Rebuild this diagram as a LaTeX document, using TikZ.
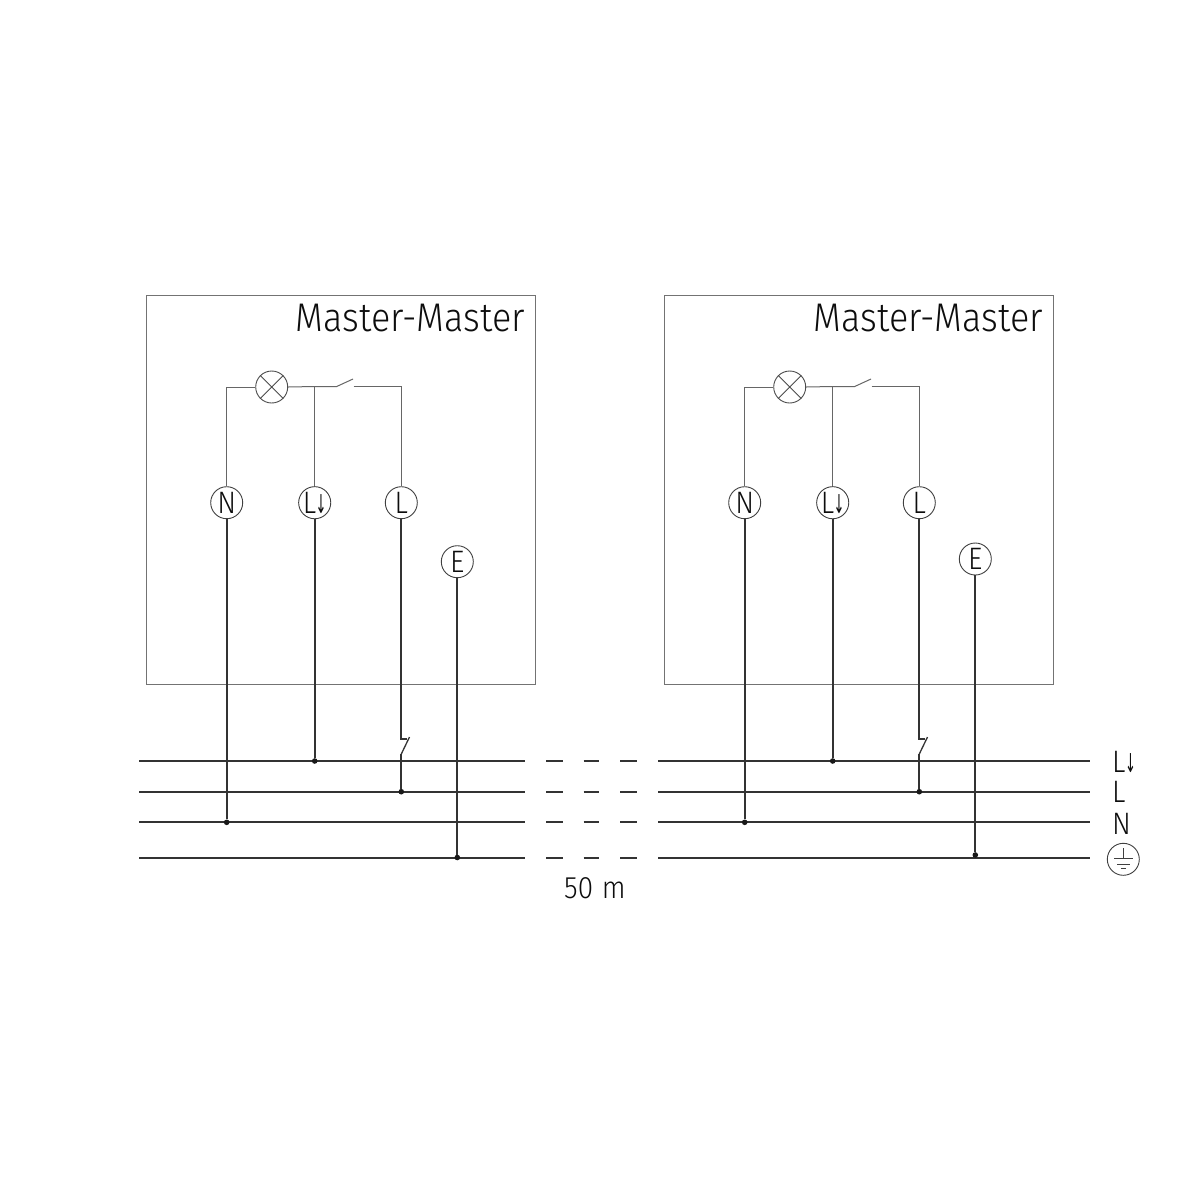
\documentclass[tikz,border=0pt]{standalone}
\usepackage{fontspec}
\setmainfont[FakeStretch=0.9]{Fira Sans Light}
\newfontfamily\arrowfont[FakeStretch=0.5]{DejaVu Sans}
\newcommand{\Ldown}{L\kern-0.5pt\raisebox{-0.5pt}{\arrowfont\fontsize{26}{26}\selectfont ↓}}
\tikzset{
  thinwire/.style={draw=black!60,line width=1pt},
  thickwire/.style={draw=black!80,line width=2pt},
  panelbox/.style={draw=black!55,line width=1pt},
  terminal/.style={circle,draw=black!75,fill=white,line width=0.9pt,minimum size=32pt,inner sep=0pt,font=\fontsize{31}{31}\selectfont,text=black!95},
  lamp/.style={circle,draw=black!70,line width=0.9pt,minimum size=32pt,inner sep=0pt},
  junction/.style={circle,fill=black!90,minimum size=5.6pt,inner sep=0pt},
  title/.style={font=\fontsize{40}{40}\selectfont,text=black!95,anchor=base east,inner sep=0pt},
  buslabel/.style={font=\fontsize{31}{31}\selectfont,text=black!95,anchor=base west,inner sep=0pt},
}
\newcommand{\panel}[4]{%
  \begin{scope}[shift={(#2,0)}]
    \coordinate (#1tl) at (146,295);
    \coordinate (#1br) at (535,684);
    \draw[panelbox] (#1tl) rectangle (#1br);
    \node[title] (#1title) at (525,331) {Master-Master};
    \node[lamp] (#1lamp) at (271.7,387) {};
    \draw[black!70,line width=0.8pt] (#1lamp.north west) -- (#1lamp.south east) (#1lamp.north east) -- (#1lamp.south west);
    \node[terminal] (#1N) at (226.7,502.7) {N};
    \node[terminal] (#1Ld) at (314.7,502.7) {\Ldown};
    \node[terminal] (#1L) at (401.3,502.7) {L};
    \node[terminal] (#1E) at (457.3,#3) {E};
    \coordinate (#1sw) at (314.7,386.5);
    \coordinate (#1swa) at (336.7,386.5);
    \coordinate (#1swb) at (353,379);
    \coordinate (#1swc) at (353.7,386.5);
    \draw[thinwire] (#1lamp.west) -- (#1lamp.west -| #1N) -- (#1N.north);
    \draw[thinwire] (#1lamp.east) -- (#1sw) -- (#1swa) -- (#1swb);
    \draw[thinwire] (#1sw) -- (#1Ld.north);
    \draw[thinwire] (#1swc) -- (#1swc -| #1L) -- (#1L.north);
    \node[junction] (#1jN) at (226.7,822.3) {};
    \node[junction] (#1jLd) at (314.7,761) {};
    \node[junction] (#1jL) at (401.3,791.7) {};
    \node[junction] (#1jE) at (457.3,#4) {};
    \coordinate (#1fa) at (401.3,738.7);
    \coordinate (#1fb) at (406.7,738.7);
    \coordinate (#1fc) at (409.5,737);
    \coordinate (#1fd) at (401.3,754);
    \draw[thickwire] (#1N.south) -- (#1jN);
    \draw[thickwire] (#1Ld.south) -- (#1jLd);
    \draw[thickwire] (#1L.south) -- (#1fa) -- (#1fb);
    \draw[thickwire,line width=1.3pt] (#1fc) -- (#1fd);
    \draw[thickwire] (#1fd) -- (#1jL);
    \draw[thickwire] (#1E.south) -- (#1jE);
  \end{scope}}
\begin{document}
\begin{tikzpicture}[x=1pt,y=-1pt]
\useasboundingbox (0,0) rectangle (1200,1200);
\fill[white] (0,0) rectangle (1200,1200);
\foreach \yy/\nm in {761/a,791.7/b,822.3/c,857.7/d}{
  \coordinate (l\nm) at (139,\yy);
  \coordinate (m\nm) at (525,\yy);
  \coordinate (n\nm) at (658,\yy);
  \coordinate (r\nm) at (1090,\yy);
  \draw[thickwire] (l\nm) -- (m\nm);
  \draw[thickwire] (n\nm) -- (r\nm);
  \foreach \xa/\xb in {546/562.7,583.7/599,620/636.7}
    \draw[thickwire] (\xa,\yy) -- (\xb,\yy);
}
\panel{p}{0}{561.7}{857.5}
\panel{q}{518}{559}{855}
\node[font=\fontsize{31}{31}\selectfont,text=black!95,inner sep=0pt,anchor=base] (dist) at (595,898) {50\kern1pt\ m};
\node[buslabel] (tLd) at (1112,772) {\Ldown};
\node[buslabel] (tL) at (1112,802.5) {L};
\node[buslabel] (tN) at (1112,834) {N};
\node[circle,draw=black!75,line width=0.9pt,minimum size=32pt,inner sep=0pt] (gnd) at (1123.3,859.3) {};
\coordinate (g0) at (1123.3,848);
\coordinate (g1) at (1123.3,858);
\draw[black!75,line width=0.9pt] (g0) -- (g1);
\draw[black!75,line width=0.9pt] (1114,858) -- (1132.7,858) (1117,864) -- (1129.5,864) (1121,868.5) -- (1126,868.5);
\end{tikzpicture}
\end{document}
